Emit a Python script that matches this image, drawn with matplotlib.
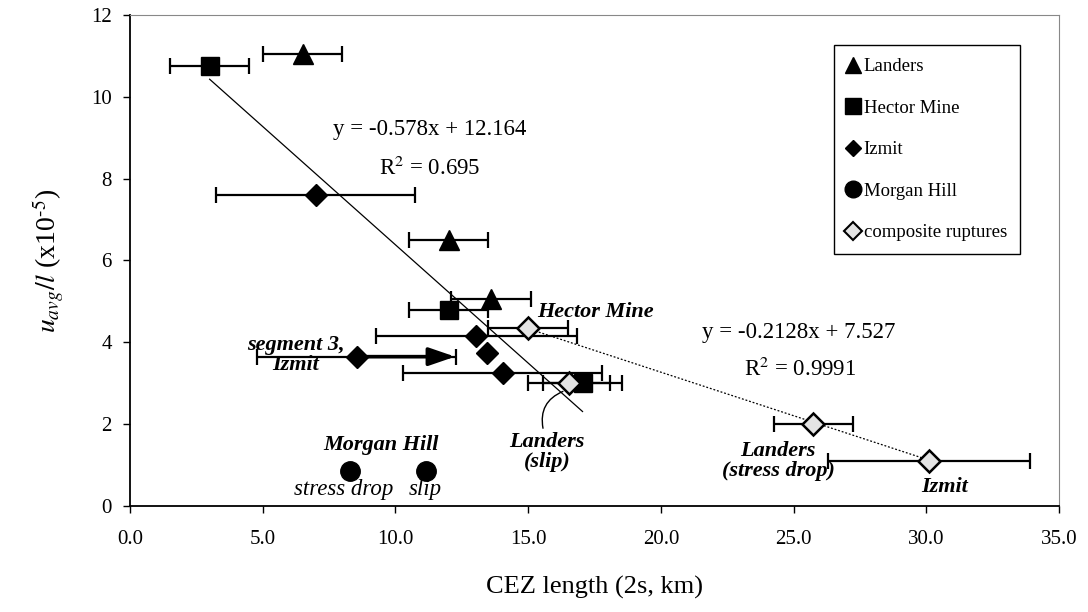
import matplotlib
matplotlib.use("Agg")
import matplotlib.pyplot as plt
from matplotlib.lines import Line2D
import numpy as np

plt.rcParams['font.family'] = ['Liberation Serif', 'DejaVu Serif']
plt.rcParams['mathtext.fontset'] = 'stix'

# data (x = CEZ length, y = u_avg/l x1e-5)
landers_x = [6.5, 12.0, 13.6]
landers_y = [11.05, 6.5, 5.05]
landers_xerr = [1.5, 1.5, 1.5]

hector_x = [3.0, 12.0, 17.05]
hector_y = [10.75, 4.8, 3.0]
hector_xerr = [1.5, 1.5, 1.5]

izmit_x = [7.0, 13.05, 13.45, 14.05, 8.55]
izmit_y = [7.6, 4.15, 3.75, 3.25, 3.65]
izmit_xerr = [3.75, 3.8, 0.0, 3.75, 3.75]

morgan_x = [8.3, 11.15]
morgan_y = [0.85, 0.85]

comp_x = [15.0, 16.55, 25.75, 30.1]
comp_y = [4.35, 3.0, 2.0, 1.1]
comp_xerr = [1.5, 1.55, 1.5, 3.8]

# trend lines as printed on the chart
fit1 = (-0.578, 12.164, 0.695)
fit2 = (-0.2128, 7.527, 0.9991)

fig = plt.figure(figsize=(10.88, 6.12), dpi=100)
ax = fig.add_axes([0.1195, 0.1732, 0.8538, 0.8023])

eb = dict(fmt='none', ecolor='black', elinewidth=1.6, capsize=6, capthick=1.6, zorder=2)
ax.errorbar(landers_x, landers_y, xerr=landers_xerr, **eb)
ax.errorbar(hector_x, hector_y, xerr=hector_xerr, **eb)
ax.errorbar(izmit_x, izmit_y, xerr=izmit_xerr, **eb)
ax.errorbar(comp_x, comp_y, xerr=comp_xerr, **eb)

# trend line 1 over the range of the individual events
all_x = landers_x + hector_x + izmit_x
xs = np.array([min(all_x), max(all_x)])
ax.plot(xs, fit1[0] * xs + fit1[1], color='black', lw=0.9, zorder=3)
# trend line 2 over the composite ruptures
xs2 = np.array([min(comp_x), max(comp_x)])
ax.plot(xs2, fit2[0] * xs2 + fit2[1], color='black', lw=0.9, ls=(0, (1.5, 1.5)), zorder=3)

# arrow on segment 3, Izmit
ax.annotate('', xy=(12.25, izmit_y[4]), xytext=(izmit_x[4], izmit_y[4]),
            arrowprops=dict(arrowstyle='-|>,head_length=1.6,head_width=0.55', lw=2.6,
                            color='black', shrinkA=0, shrinkB=0), zorder=3)

ax.plot(landers_x, landers_y, '^', color='black', ms=15, zorder=4)
ax.plot(hector_x, hector_y, 's', color='black', ms=13, zorder=4)
ax.plot(izmit_x, izmit_y, 'D', color='black', ms=11, zorder=4)
ax.plot(morgan_x, morgan_y, 'o', color='black', ms=14, zorder=4)
ax.plot(comp_x, comp_y, 'D', mfc='#e4e4e4', mec='black', mew=1.8, ms=11, zorder=5)

# equations
eq = dict(fontsize=16.5, ha='center', va='center')
ax.text(11.3, 9.2, f"y = {fit1[0]}x + {fit1[1]}", **eq)
ax.text(11.3, 8.25, f"R$^2$ = {fit1[2]}", **eq)
ax.text(25.2, 4.25, f"y = {fit2[0]}x + {fit2[1]}", **eq)
ax.text(25.25, 3.33, f"R$^2$ = {fit2[2]}", **eq)

# point labels
lab = dict(fontsize=16, fontstyle='italic', fontweight='bold', va='center')
ax.text(15.33, 4.74, "Hector Mine", ha='left', **lab)
ax.text(6.25, 3.69, "segment 3,\nIzmit", ha='center', multialignment='center',
        linespacing=1.0, **lab)
ax.text(9.45, 1.49, "Morgan Hill", ha='center', **lab)
ax.text(8.06, 0.4, "stress drop", ha='center', va='center', fontsize=16.5, fontstyle='italic')
ax.text(11.12, 0.4, "slip", ha='center', va='center', fontsize=16.5, fontstyle='italic')
ax.text(15.71, 1.33, "Landers\n(slip)", ha='center', multialignment='center',
        linespacing=1.0, **lab)
ax.text(24.42, 1.09, "Landers\n(stress drop)", ha='center', multialignment='center',
        linespacing=1.0, **lab)
ax.text(30.71, 0.46, "Izmit", ha='center', **lab)
ax.annotate('', xy=(16.31, 2.8), xytext=(15.56, 1.9),
            arrowprops=dict(arrowstyle='-', lw=1.0, color='black',
                            connectionstyle='arc3,rad=-0.4', shrinkA=0, shrinkB=0))

ax.set_xlim(0, 35)
ax.set_ylim(0, 12)
ax.set_xticks(np.arange(0, 36, 5))
ax.set_xticklabels([f"{v:.1f}" for v in np.arange(0, 36, 5)])
ax.set_yticks(np.arange(0, 13, 2))
ax.tick_params(direction='out', length=5, width=1, labelsize=15, pad=8)
ax.tick_params(axis='x', pad=12)
for s in ['top', 'right']:
    ax.spines[s].set_color('#888888')
    ax.spines[s].set_linewidth(0.8)
for s in ['left', 'bottom']:
    ax.spines[s].set_linewidth(1.3)

ax.set_xlabel("CEZ length (2s, km)", fontsize=19, labelpad=20)
ax.set_ylabel(r"$u_{avg}/l$ (x10$^{\text{-5}}$)", fontsize=20, labelpad=18)

handles = [
    Line2D([], [], ls='none', marker='^', color='black', ms=12),
    Line2D([], [], ls='none', marker='s', color='black', ms=12),
    Line2D([], [], ls='none', marker='D', color='black', ms=8),
    Line2D([], [], ls='none', marker='o', color='black', ms=12),
    Line2D([], [], ls='none', marker='D', mfc='#e4e4e4', mec='black', mew=1.5, ms=9),
]
labels = ["Landers", "Hector Mine", "Izmit", "Morgan Hill", "composite ruptures"]
leg = ax.legend(handles, labels, loc='upper right', bbox_to_anchor=(0.958, 0.939),
                borderaxespad=0, fontsize=13.5, handlelength=0.7, handletextpad=0.2,
                labelspacing=1.3, borderpad=0.7, fancybox=False, framealpha=1,
                edgecolor='black')
leg.get_frame().set_linewidth(1.0)

fig.savefig("out.png", dpi=100)
